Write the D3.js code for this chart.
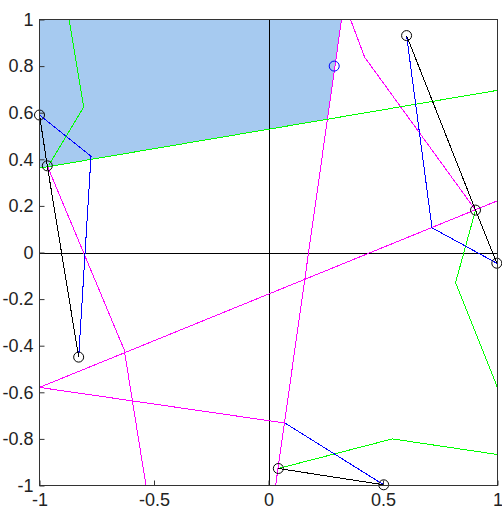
<!DOCTYPE html>
<html>
<head>
<meta charset="utf-8">
<script src="https://cdn.jsdelivr.net/npm/d3@7"></script>
<style>
  html, body { margin: 0; padding: 0; background: #fff; }
  svg { display: block; }
</style>
</head>
<body>
<svg id="chart" width="502" height="512"></svg>
<script>
// ---- data ----
const xTicks = [-1, -0.5, 0, 0.5, 1];
const yTicks = [-1, -0.8, -0.6, -0.4, -0.2, 0, 0.2, 0.4, 0.6, 0.8, 1];

const fillRegion = [[-1, 1], [0.319, 1], [0.257, 0.572], [-1, 0.362]];

const blackPaths = [
  [[-1, 0.59], [-0.966, 0.372], [-0.829, -0.449]],
  [[0.603, 0.931], [0.904, 0.182], [0.997, -0.046]],
  [[0.043, -0.927], [0.503, -0.997]]
];
const bluePaths = [
  [[-1, 0.59], [-0.775, 0.413], [-0.829, -0.449]],
  [[0.603, 0.931], [0.714, 0.106], [0.997, -0.046]],
  [[0.072, -0.732], [0.503, -0.997]]
];
const greenPaths = [
  [[-0.871, 1], [-0.807, 0.624], [-0.959, 0.375]],
  [[-1, 0.362], [1, 0.696]],
  [[0.904, 0.182], [0.817, -0.129], [1, -0.58]],
  [[0.043, -0.927], [0.541, -0.8], [1, -0.867]]
];
const magentaPaths = [
  [[0.319, 1], [0.031, -1]],
  [[0.358, 1], [0.42, 0.838], [0.904, 0.182]],
  [[-1, -0.579], [1, 0.222]],
  [[-1, -0.579], [0.072, -0.732]],
  [[-0.966, 0.372], [-0.63, -0.418], [-0.535, -1]]
];
const blackPoints = [
  [-1, 0.59], [-0.966, 0.372], [-0.829, -0.449],
  [0.603, 0.931], [0.904, 0.182], [0.997, -0.046],
  [0.043, -0.927], [0.503, -0.997]
];
const bluePoints = [[0.287, 0.8]];

// ---- layout ----
const svg = d3.select("#chart");
const x = d3.scaleLinear().domain([-1, 1]).range([39.5, 497.5]);
const y = d3.scaleLinear().domain([-1, 1]).range([485.5, 19.5]);

const defs = svg.append("defs");
defs.append("clipPath").attr("id", "clip")
  .append("rect")
  .attr("x", x(-1)).attr("y", y(1))
  .attr("width", x(1) - x(-1)).attr("height", y(-1) - y(1));

const plot = svg.append("g").attr("clip-path", "url(#clip)");
const line = d3.line().x(d => x(d[0])).y(d => y(d[1]));

// filled region
plot.append("path")
  .attr("d", line(fillRegion) + "Z")
  .attr("fill", "#a6caf0")
  .attr("stroke", "none");

// zero lines
plot.append("line")
  .attr("x1", x(-1)).attr("x2", x(1))
  .attr("y1", Math.round(y(0)) + 0.5).attr("y2", Math.round(y(0)) + 0.5)
  .attr("stroke", "#000").attr("stroke-width", 1);
plot.append("line")
  .attr("x1", Math.round(x(0)) + 0.5).attr("x2", Math.round(x(0)) + 0.5)
  .attr("y1", y(-1)).attr("y2", y(1))
  .attr("stroke", "#000").attr("stroke-width", 1);

function drawPaths(paths, color) {
  plot.append("g").selectAll("path").data(paths).join("path")
    .attr("d", line)
    .attr("fill", "none")
    .attr("stroke", color)
    .attr("stroke-width", 1)
    .attr("shape-rendering", "crispEdges");
}
drawPaths(magentaPaths, "#ff00ff");
drawPaths(greenPaths, "#00ff00");
drawPaths(bluePaths, "#0000ff");
drawPaths(blackPaths, "#000000");

// markers
svg.append("g").selectAll("circle").data(blackPoints).join("circle")
  .attr("cx", d => x(d[0])).attr("cy", d => y(d[1]))
  .attr("r", 5).attr("fill", "none").attr("stroke", "#000").attr("stroke-width", 1);
svg.append("g").selectAll("circle").data(bluePoints).join("circle")
  .attr("cx", d => x(d[0])).attr("cy", d => y(d[1]))
  .attr("r", 5).attr("fill", "none").attr("stroke", "#0000ff").attr("stroke-width", 1);

// box
svg.append("rect")
  .attr("x", x(-1)).attr("y", y(1))
  .attr("width", x(1) - x(-1)).attr("height", y(-1) - y(1))
  .attr("fill", "none").attr("stroke", "#333").attr("stroke-width", 1);

// axes (ticks inward)
const xAxis = d3.axisBottom(x).tickValues(xTicks).tickSize(-5).tickPadding(10)
  .tickFormat(d => d3.format("")(d).replace("−", "-"));
const yAxis = d3.axisLeft(y).tickValues(yTicks).tickSize(-5).tickPadding(10)
  .tickFormat(d => d3.format("")(+d.toFixed(1)).replace("−", "-"));

const gx = svg.append("g").attr("transform", `translate(0,${y(-1)})`).call(xAxis);
const gy = svg.append("g").attr("transform", `translate(${x(-1)},0)`).call(yAxis);
[gx, gy].forEach(g => {
  g.select(".domain").remove();
  g.selectAll(".tick line").attr("stroke", "#333");
  g.selectAll(".tick text")
    .attr("fill", "#222")
    .style("font-family", "'Liberation Sans', Arial, sans-serif")
    .style("font-size", "18px");
});
gx.selectAll(".tick text").attr("dy", "0.71em").attr("y", 8);
gy.selectAll(".tick text").attr("x", -6);
</script>
</body>
</html>
